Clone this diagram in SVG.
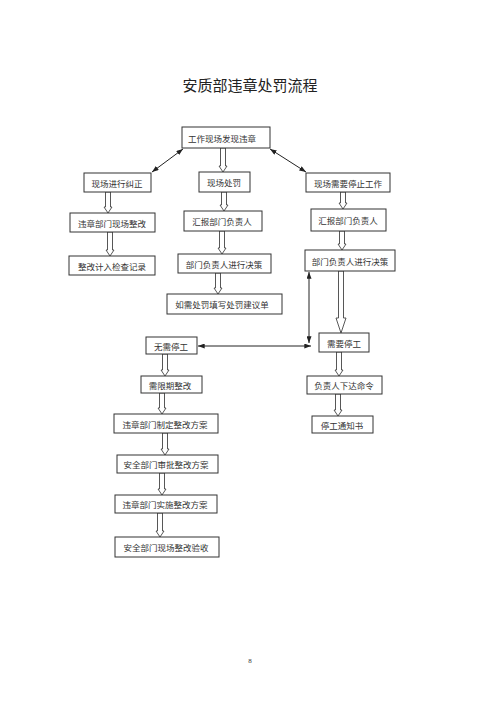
<svg xmlns="http://www.w3.org/2000/svg" width="500" height="707" viewBox="0 0 500 707">
<style>
.box{fill:#fff;stroke:#333;stroke-width:1}
.t{font-family:"Noto Sans CJK SC","Noto Sans CJK JP",sans-serif;font-size:8.5px;fill:#333;text-anchor:middle;dominant-baseline:central}
.title{font-family:"Noto Sans CJK SC",sans-serif;font-size:15px;fill:#222;text-anchor:middle}
.ha{fill:#fff;stroke:#444;stroke-width:0.9}
.ln{stroke:#222;stroke-width:1;fill:none;marker-start:url(#ah);marker-end:url(#ah)}
</style>
<defs>
<marker id="ah" viewBox="0 0 8 6" refX="8" refY="3" markerWidth="7" markerHeight="5" markerUnits="userSpaceOnUse" orient="auto-start-reverse">
<path d="M0,0 L8,3 L0,6 Z" fill="#222"/>
</marker>
</defs>
<rect width="500" height="707" fill="#fff"/>
<text class="title" x="250" y="91">安质部违章处罚流程</text>

<g id="connectors">
<line class="ln" x1="183" y1="149" x2="152" y2="172"/>
<line class="ln" x1="270" y1="149" x2="306" y2="172"/>
<line class="ln" x1="198" y1="346" x2="311" y2="346"/>
<line class="ln" x1="309" y1="272" x2="309" y2="343"/>
<polygon class="ha" points="220.5,148 225.5,148 225.5,166 227,166 223,172 219,166 220.5,166"/>
<polygon class="ha" points="105.5,192 110.5,192 110.5,207 112,207 108,213 104,207 105.5,207"/>
<polygon class="ha" points="107.5,232 112.5,232 112.5,250 114,250 110,256 106,250 107.5,250"/>
<polygon class="ha" points="221.5,192 226.5,192 226.5,205 228,205 224,211 220,205 221.5,205"/>
<polygon class="ha" points="219.5,231 224.5,231 224.5,248 226,248 222,254 218,248 219.5,248"/>
<polygon class="ha" points="215.5,273 220.5,273 220.5,288 222,288 218,294 214,288 215.5,288"/>
<polygon class="ha" points="340.5,192 345.5,192 345.5,203 347,203 343,209 339,203 340.5,203"/>
<polygon class="ha" points="339.5,231 344.5,231 344.5,244 346,244 342,250 338,244 339.5,244"/>
<polygon class="ha" points="338.5,271 343.5,271 343.5,318 346,318 341,333 336,318 338.5,318"/>
<polygon class="ha" points="336.5,352 341.5,352 341.5,370 343,370 339,376 335,370 336.5,370"/>
<polygon class="ha" points="335.5,394 340.5,394 340.5,410 342,410 338,416 334,410 335.5,410"/>
<polygon class="ha" points="162.5,354 167.5,354 167.5,370 169,370 165,376 161,370 162.5,370"/>
<polygon class="ha" points="159.5,393 164.5,393 164.5,408 166,408 162,414 158,408 159.5,408"/>
<polygon class="ha" points="162.5,433 167.5,433 167.5,449 169,449 165,455 161,449 162.5,449"/>
<polygon class="ha" points="159.5,473 164.5,473 164.5,489 166,489 162,495 158,489 159.5,489"/>
<polygon class="ha" points="157.5,513 162.5,513 162.5,531 164,531 160,537 156,531 157.5,531"/>
</g>

<g id="n1"><rect class="box" x="182" y="127" width="88" height="21"/><text class="t" x="222" y="138">工作现场发现违章</text></g>
<g id="n2"><rect class="box" x="84" y="173" width="67" height="19"/><text class="t" x="117" y="183">现场进行纠正</text></g>
<g id="n3"><rect class="box" x="70" y="213" width="85" height="19"/><text class="t" x="112" y="223">违章部门现场整改</text></g>
<g id="n4"><rect class="box" x="69" y="256" width="86" height="19"/><text class="t" x="112" y="266">整改计入检查记录</text></g>
<g id="n5"><rect class="box" x="199" y="172" width="51" height="20"/><text class="t" x="224" y="182">现场处罚</text></g>
<g id="n6"><rect class="box" x="184" y="211" width="78" height="20"/><text class="t" x="222" y="221">汇报部门负责人</text></g>
<g id="n7"><rect class="box" x="178" y="254" width="93" height="19"/><text class="t" x="224" y="264">部门负责人进行决策</text></g>
<g id="n8"><rect class="box" x="167" y="294" width="115" height="20"/><text class="t" x="222" y="304">如需处罚填写处罚建议单</text></g>
<g id="n9"><rect class="box" x="306" y="173" width="84" height="19"/><text class="t" x="348" y="183">现场需要停止工作</text></g>
<g id="n10"><rect class="box" x="311" y="209" width="75" height="22"/><text class="t" x="348" y="220">汇报部门负责人</text></g>
<g id="n11"><rect class="box" x="305" y="250" width="90" height="21"/><text class="t" x="350" y="261">部门负责人进行决策</text></g>
<g id="n12"><rect class="box" x="319" y="333" width="50" height="19"/><text class="t" x="344" y="343">需要停工</text></g>
<g id="n13"><rect class="box" x="307" y="376" width="75" height="18"/><text class="t" x="344" y="385">负责人下达命令</text></g>
<g id="n14"><rect class="box" x="312" y="416" width="61" height="17"/><text class="t" x="342" y="425">停工通知书</text></g>
<g id="n15"><rect class="box" x="146" y="337" width="51" height="17"/><text class="t" x="171" y="346">无需停工</text></g>
<g id="n16"><rect class="box" x="141" y="376" width="61" height="17"/><text class="t" x="170" y="385">需限期整改</text></g>
<g id="n17"><rect class="box" x="114" y="414" width="104" height="19"/><text class="t" x="165" y="424">违章部门制定整改方案</text></g>
<g id="n18"><rect class="box" x="117" y="455" width="101" height="18"/><text class="t" x="166" y="464">安全部门审批整改方案</text></g>
<g id="n19"><rect class="box" x="115" y="495" width="102" height="18"/><text class="t" x="165" y="504">违章部门实施整改方案</text></g>
<g id="n20"><rect class="box" x="115" y="537" width="104" height="20"/><text class="t" x="166" y="547">安全部门现场整改验收</text></g>
<text x="250" y="663" font-family="Liberation Serif, serif" font-size="7" fill="#333" text-anchor="middle">8</text>
</svg>
